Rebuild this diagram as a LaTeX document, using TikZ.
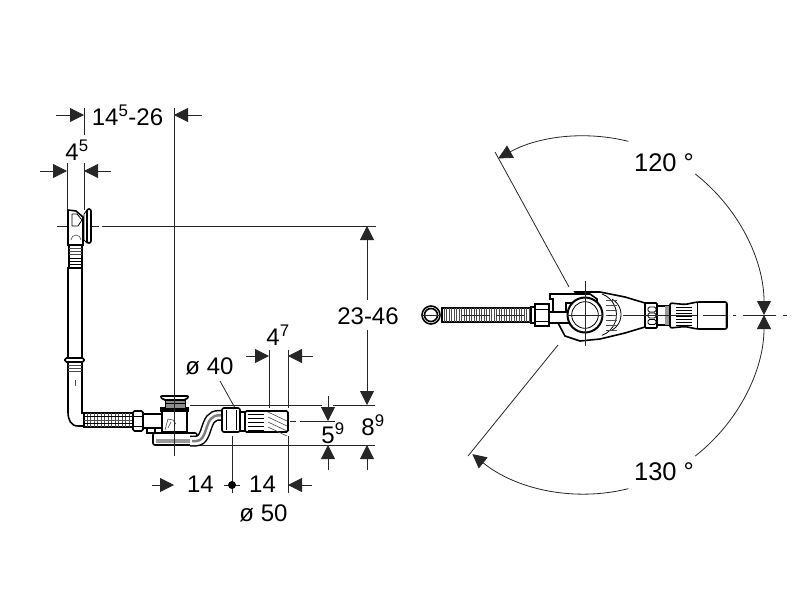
\documentclass[tikz,border=0pt]{standalone}
\usepackage{fontspec}
\setmainfont{Liberation Sans}
\usetikzlibrary{arrows.meta}
\tikzset{
  dimline/.style={line width=0.8pt,black!85},
  dimtip/.style={dimline,-{Triangle[length=14pt,width=14pt]}},
  part/.style={line width=1.6pt,fill=white},
  rib/.style={line width=0.6pt,black!70},
  inner/.style={line width=0.8pt},
  dimtext/.style={font=\fontsize{24}{26}\selectfont,inner sep=0pt},
  angletext/.style={font=\fontsize{25.5}{27}\selectfont,inner sep=0pt},
}
\begin{document}
\begin{tikzpicture}[x=1pt,y=-1pt]
  \useasboundingbox (0,0) rectangle (800,600);
  % extension lines, left view
  \draw[dimline](67,163)--(67,210);
  \draw[dimline](84,108)--(84,135);
  \draw[dimline](84,163)--(84,210);
  \draw[dimline](174,108)--(174,456);
  \draw[dimline](57,226)--(99,226);
  \draw[dimline](102,226)--(376,226);
  \draw[dimline](190,405)--(322,405);
  \draw[dimline](333,405)--(375,405);
  \draw[dimline](195,445)--(375,445);
  \draw[dimline](269,350)--(269,408);
  \draw[dimline](288,350)--(288,408);
  \draw[dimline](288,436)--(288,493);
  \draw[dimline](232,436)--(232,493);
  \draw[dimline](290,421)--(296,421);
  \draw[dimline](300,421)--(335,421);
  \draw[dimline](220,381)--(240,417);
  % dimension arrows
  \draw[dimtip](56,115)--(84,115);
  \draw[dimtip](202,115)--(174,115);
  \draw[dimtip](40,171)--(67,171);
  \draw[dimtip](111,171)--(84,171);
  \draw[dimtip](246,356)--(269,356);
  \draw[dimtip](313,356)--(288,356);
  \draw[dimtip](367,300)--(367,226);
  \draw[dimtip](367,330)--(367,405);
  \draw[dimtip](367,470)--(367,445);
  \draw[dimtip](328,396)--(328,421);
  \draw[dimtip](328,470)--(328,445);
  \draw[dimtip](152,485)--(174,485);
  \draw[dimtip](312,485)--(288,485);
  \draw[dimline](224,485)--(240,485);
  \fill(232,485)circle(4);
  % overflow and tube
  \draw[part](68,210)--(76,211)--(83,217)--(83,245)--(68,245)--cycle;
  \draw[inner](72,214)--(77,214)--(82,220)--(78,226)--(72,226)--cycle;
  \draw[inner,fill=white](84,214)--(87,210)--(87,243)--(84,240)--cycle;
  \draw[part,rounded corners=2pt](87,209)rectangle(91,243);
  \draw[rib](71,240)arc[start angle=180,end angle=0,radius=5pt];
  \draw[part](69,245)rectangle(82,268);
  \foreach \y in {248,251,254}{\draw[rib](69,\y)--(82,\y);}
  \foreach \y in {258,261,264}{\draw[inner](69,\y)--(82,\y);}
  \draw[part](68,268)--(68,412).. controls (68,420) and (71,426) .. (78,426)--(88,426)--(88,413)--(82,413)--(82,268)--cycle;
  \draw[part,rounded corners=1.5pt](65,358)rectangle(84,362);
  \foreach \y in {365,368,371}{\draw[rib](68,\y)--(82,\y);}
  \draw[rib](75,380)--(75,386);
  % hose, waste body, siphon
  \draw[part](84,413)rectangle(133,427);
  \foreach \x in {87,90.5,...,132}{\draw[rib](\x,413)--(\x,427);}
  \draw[rib](84,420)--(133,420);
  \draw[inner](84,416.5)--(133,416.5);
  \draw[inner](84,423.5)--(133,423.5);
  \draw[part,rounded corners=1.5pt](133,411)rectangle(143,431);
  \draw[inner](133,416)--(143,416);
  \draw[inner](133,426)--(143,426);
  \draw[part](143,414)rectangle(162,428);
  \draw[part](147,428)rectangle(155,433);
  \draw[part,rounded corners=2pt](153,433)rectangle(197,445);
  \fill[black!40](156,439)rectangle(195,443);
  \draw[part](162,411)rectangle(187,432);
  \draw[rib](165,430)--(168,419)--(173,420)--(176,424);
  \draw[rib](168,428)--(171,422);
  % siphon bend, stroked in three layers
  \draw[line width=11pt](190,441)--(196,441).. controls (204,441) and (205,431) .. (208,424).. controls (211,416) and (216,414) .. (226,416);
  \draw[white,line width=8pt](190,441)--(196,441).. controls (204,441) and (205,431) .. (208,424).. controls (211,416) and (216,414) .. (226,416);
  \draw[black!50,line width=2.5pt](192,441)--(196,441).. controls (204,441) and (205,431) .. (208,424).. controls (211,416) and (216,414) .. (226,416);
  \draw[part](161,408)rectangle(188,411);
  \fill[black](161,408)rectangle(188,411);
  \draw[inner,fill=black!45](165,400)rectangle(185,408);
  \draw[inner](165,403)--(185,403);
  \draw[part,rounded corners=2pt](160,396)--(189,396)--(186,400)--(163,400)--cycle;
  % outlet, left view
  \draw[part,rounded corners=2pt](222,408)rectangle(240,432);
  \draw[inner](226,410)--(226,430);
  \draw[inner](236,410)--(236,430);
  \draw[part](240,412)rectangle(245,431);
  \draw[part,rounded corners=1.5pt](245,411)rectangle(288,432);
  \foreach \y in {414,418,...,430}{\draw[line width=1pt](248,\y)--(264,\y);}
  \foreach \k in {0,5,...,15}{\draw[rib](268,412+\k)--(287,421+\k);}
  \draw[dimline](174,392)--(174,456);
  % right view
  \coordinate(pivot)at(585,315);
  \draw[dimline](569,287)--(495,152);
  \draw[dimline](558,345)--(468,456);
  \draw[dimtip](pivot)++(76:179pt)arc[start angle=76,end angle=119,radius=179pt];
  \draw[dimtip](pivot)++(52:179pt)arc[start angle=52,end angle=0,radius=179pt];
  \draw[dimtip](pivot)++(-52:179pt)arc[start angle=-52,end angle=0,radius=179pt];
  \draw[dimtip](pivot)++(-76:179pt)arc[start angle=-76,end angle=-129,radius=179pt];
  \draw[part](431,315)circle(9);
  \draw[part](431,315)circle(6.5);
  \draw[dimline](421,315)--(441,315);
  \draw[part](442,308)rectangle(531,322);
  \foreach \x in {444,446.5,...,530}{\draw[rib](\x,308)--(\x,322);}
  \draw[dimline](462,315)--(490,315);
  \draw[dimline](496,315)--(524,315);
  \draw[part](531,307)rectangle(535,323);
  \draw[part](535,304)rectangle(549,326);
  \draw[inner](535,309)--(549,309);
  \draw[inner](535,321)--(549,321);
  % housing
  \draw[part](575,292)--(600,292)--(625,297)--(645,303)--(645,327)--(625,333)--(600,339)--(580,341)--(565,336)--(558,323)--(580,300)--cycle;
  \draw[part](549,312)--(572,312)--(572,323)--(549,323)--cycle;
  \draw[part](550,294)--(590,294)--(597,299)--(597,303)--(566,303)--(566,312)--(553,312)--(553,299)--(550,299)--cycle;
  \draw[line width=2pt,fill=white](585,315)circle(17.5);
  \draw[inner,fill=white](585,315)circle(13.3);
  \draw[inner](612,299)arc[start angle=60,end angle=-60,radius=18pt];
  \draw[inner](602,294)arc[start angle=70,end angle=-70,radius=22pt];
  \foreach \y in {300,305,...,330}{\draw[rib](606,\y)--(617,\y);}
  \draw[part,rounded corners=1pt](645,303)rectangle(657,328);
  \foreach \y in {309.5,315.5,322}{\draw[inner,rounded corners=1.5pt](648,\y-2.5)rectangle(656,\y+2.5);}
  \draw[part](657,306)rectangle(670,325);
  \fill[black!40](665,306)rectangle(670,325);
  \draw[part,rounded corners=2pt](670,303)--(685,304.5)--(697,302)--(727,302)--(727,329)--(697,329)--(685,326.5)--(670,328)--cycle;
  \draw[inner](697,302)--(697,329);
  \foreach \y in {307,310,...,325}{\draw[line width=1pt](676,\y)--(692,\y);}
  \fill[black!30](724.5,303)rectangle(726,328);
  % centre lines, right view
  \draw[dimline](585,281)--(585,346);
  \draw[dimline](567,315)--(603,315);
  \draw[dimline](608,315)--(612,315);
  \draw[dimline](623,315)--(697,315);
  \draw[dimline](703,315)--(726,315);
  \draw[dimline](733,315)--(736,315);
  \draw[dimline](743,315)--(776,315);
  \draw[dimline](783,315)--(787,315);
  % labels
  \node[dimtext](depthlabel)at(127.5,115){14\textsuperscript{5}-26};
  \node[dimtext](overflowlabel)at(77,150){4\textsuperscript{5}};
  \node[dimtext](heightlabel)at(368,316){23-46};
  \node[dimtext](outletlabel)at(278,335){4\textsuperscript{7}};
  \node[dimtext](bowllabel)at(209.5,366){ø 40};
  \node[dimtext](stubhigh)at(333,433){5\textsuperscript{9}};
  \node[dimtext](stubtotal)at(373,425){8\textsuperscript{9}};
  \node[dimtext](halfleft)at(200.5,484){14};
  \node[dimtext](halfright)at(262.5,484){14};
  \node[dimtext](pipelabel)at(263.5,513){ø 50};
  \node[angletext](upperangle)at(664,163){120 °};
  \node[angletext](lowerangle)at(664,472){130 °};
\end{tikzpicture}
\end{document}
